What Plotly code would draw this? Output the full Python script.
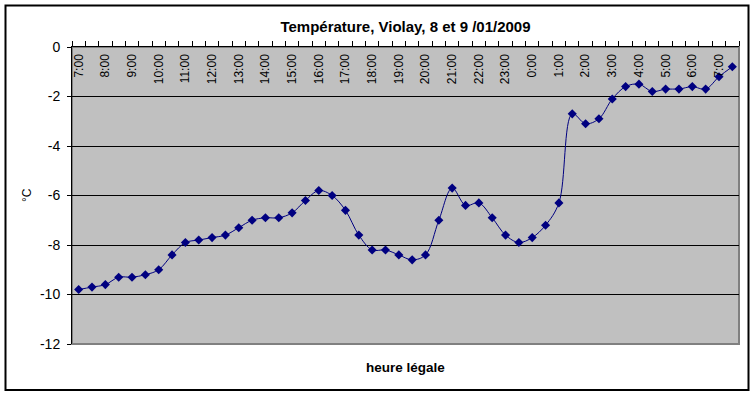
import plotly.graph_objects as go

times = ["7:00", "7:30", "8:00", "8:30", "9:00", "9:30", "10:00", "10:30",
         "11:00", "11:30", "12:00", "12:30", "13:00", "13:30", "14:00", "14:30",
         "15:00", "15:30", "16:00", "16:30", "17:00", "17:30", "18:00", "18:30",
         "19:00", "19:30", "20:00", "20:30", "21:00", "21:30", "22:00", "22:30",
         "23:00", "23:30", "0:00", "0:30", "1:00", "1:30", "2:00", "2:30",
         "3:00", "3:30", "4:00", "4:30", "5:00", "5:30", "6:00", "6:30",
         "7:00", "7:30"]

temps = [-9.8, -9.7, -9.6, -9.3, -9.3, -9.2, -9.0, -8.4,
         -7.9, -7.8, -7.7, -7.6, -7.3, -7.0, -6.9, -6.9,
         -6.7, -6.2, -5.8, -6.0, -6.6, -7.6, -8.2, -8.2,
         -8.4, -8.6, -8.4, -7.0, -5.7, -6.4, -6.3, -6.9,
         -7.6, -7.9, -7.7, -7.2, -6.3, -2.7, -3.1, -2.9,
         -2.1, -1.6, -1.5, -1.8, -1.7, -1.7, -1.6, -1.7,
         -1.2, -0.8]

y_ticks = [0, -2, -4, -6, -8, -10, -12]
y_ticktext = ["0", "-2", "-4", "-6", "-8", "-10", "-12"]

idx = list(range(len(times)))
label_idx = idx[::2]
label_text = [times[i] for i in label_idx]
boundaries = [i - 0.5 for i in range(len(times) + 1)]

fig = go.Figure()
fig.add_trace(go.Scatter(
    x=idx, y=temps, mode="lines+markers",
    line=dict(color="#000080", width=1, shape="spline", smoothing=1),
    marker=dict(symbol="diamond", size=7, color="#000080"),
    cliponaxis=False, hoverinfo="skip",
))

W, H = 754, 395
L, R, T, B = 72, 15, 47, 51
pw, ph = W - L - R, H - T - B

annotations = [
    dict(text="<b>heure légale</b>", xref="paper", yref="paper",
         x=0.5, y=(H - B - 367) / ph, xanchor="center", yanchor="middle",
         showarrow=False, font=dict(size=13.5)),
    dict(text="°C", xref="paper", yref="paper",
         x=(27 - L) / pw, y=(H - B - 195) / ph, xanchor="center", yanchor="middle",
         textangle=-90, showarrow=False, font=dict(size=12)),
]

fig.update_layout(
    width=W, height=H,
    margin=dict(l=L, r=R, t=T, b=B, autoexpand=False),
    paper_bgcolor="white",
    plot_bgcolor="#C0C0C0",
    showlegend=False,
    hovermode=False,
    font=dict(family="Arial, Liberation Sans, sans-serif", color="black", size=11),
    title=dict(text="<b>Température, Violay, 8 et 9 /01/2009</b>",
               x=0.5, xref="paper", xanchor="center",
               y=1 - 27 / H, yref="container", yanchor="middle",
               font=dict(size=15)),
    xaxis=dict(
        range=[-0.5, len(times) - 0.5],
        side="top",
        tickmode="array", tickvals=label_idx, ticktext=label_text,
        tickangle=-90,
        ticklabelposition="inside",
        ticklabeloverflow="allow",
        ticks="", showgrid=False, zeroline=False,
        showline=True, linecolor="black", linewidth=1,
        tickfont=dict(size=12, color="black"),
        minor=dict(tickmode="array", tickvals=boundaries, ticks="outside",
                   ticklen=5, tickcolor="black", showgrid=False),
    ),
    yaxis=dict(
        range=[-12, 0],
        tickmode="array", tickvals=y_ticks, ticktext=y_ticktext,
        ticks="outside", ticklen=4, tickcolor="black",
        showgrid=True, gridcolor="black", gridwidth=1,
        zeroline=False,
        showline=True, linecolor="black", linewidth=1,
        tickfont=dict(size=14),
        ticklabelstandoff=4,
        ticklabeloverflow="allow",
    ),
    shapes=[
        dict(type="rect", xref="paper", yref="paper", x0=0, x1=1, y0=0, y1=1,
             line=dict(color="#808080", width=2), fillcolor="rgba(0,0,0,0)",
             layer="below"),
        dict(type="rect", xref="paper", yref="paper",
             x0=(5.5 - L) / pw, x1=(748.5 - L) / pw,
             y0=(H - B - 390) / ph, y1=(H - B - 5.5) / ph,
             line=dict(color="black", width=2), fillcolor="rgba(0,0,0,0)"),
    ],
    annotations=annotations,
)

fig.write_html("out.html",
               config={"displayModeBar": False, "staticPlot": True},
               post_script="document.body.style.margin='0';document.body.style.overflow='hidden';")
